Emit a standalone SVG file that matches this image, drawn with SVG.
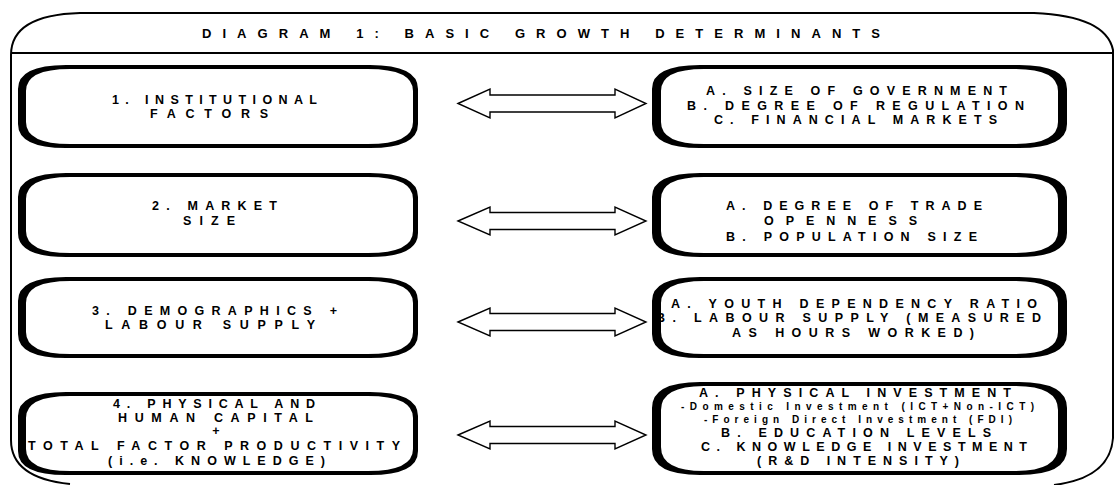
<svg xmlns="http://www.w3.org/2000/svg" width="1114" height="485" viewBox="0 0 1114 485">
<style>
.t{font-family:"Liberation Sans",Arial,sans-serif;font-weight:bold;font-size:12.5px;fill:#000}
.s{font-size:10px}
.ttl{font-size:13px}
.nb{fill:#000;fill-rule:evenodd}
.ar{fill:#fff;stroke:#000;stroke-width:1.4;stroke-linejoin:miter}
.fr{fill:none;stroke:#000;stroke-width:2}
</style>
<rect width="1114" height="485" fill="#fff"/>
<g id="frame">
<path class="fr" d="M70 484 Q11 478 11 440 L11 55 Q11 15 80 13 L1034 13 Q1106 16 1113 50 L1113 438 Q1110 478 1054 485"/>
<line class="fr" x1="11" y1="53" x2="1114" y2="53"/>
<text class="t ttl" x="202" y="38" textLength="678" lengthAdjust="spacing">DIAGRAM 1: BASIC GROWTH DETERMINANTS</text>
</g>
<g id="connectors">
<polygon class="ar" points="458,103.5 490,89 490,95 615,95 615,89 646,103.5 615,118 615,112 490,112 490,118"/>
<polygon class="ar" points="458,221 490,207 490,212.5 615,212.5 615,207 646,221 615,235 615,229.5 490,229.5 490,235"/>
<polygon class="ar" points="458,322 490,308 490,313.5 615,313.5 615,308 646,322 615,336 615,330.5 490,330.5 490,336"/>
<polygon class="ar" points="458,435 490,421 490,426.5 615,426.5 615,421 646,435 615,449 615,443.5 490,443.5 490,449"/>
</g>
<g id="n1">
<path class="nb" d="M66 65 H370 Q418 65 418 89 V124 Q418 148 370 148 H66 Q18 148 18 124 V89 Q18 65 66 65 Z M70 69 H368 Q413 69 413 91 V122 Q413 144 368 144 H70 Q26 144 26 122 V91 Q26 69 70 69 Z"/>
<text class="t" x="112" y="104" textLength="205" lengthAdjust="spacing">1. INSTITUTIONAL</text>
<text class="t" x="150" y="118" textLength="118" lengthAdjust="spacing">FACTORS</text>
</g>
<g id="n1a">
<path class="nb" d="M700 65 H1019 Q1067 65 1067 89 V124 Q1067 148 1019 148 H700 Q652 148 652 124 V89 Q652 65 700 65 Z M704 69 H1015 Q1058 69 1058 91 V122 Q1058 144 1015 144 H704 Q661 144 661 122 V91 Q661 69 704 69 Z"/>
<text class="t" x="706" y="95" textLength="301" lengthAdjust="spacing">A. SIZE OF GOVERNMENT</text>
<text class="t" x="687" y="110" textLength="337" lengthAdjust="spacing">B. DEGREE OF REGULATION</text>
<text class="t" x="714" y="124" textLength="283" lengthAdjust="spacing">C. FINANCIAL MARKETS</text>
</g>
<g id="n2">
<path class="nb" d="M66 173 H370 Q418 173 418 197 V233 Q418 257 370 257 H66 Q18 257 18 233 V197 Q18 173 66 173 Z M70 177 H368 Q413 177 413 199 V231 Q413 253 368 253 H70 Q26 253 26 231 V199 Q26 177 70 177 Z"/>
<text class="t" x="152" y="210" textLength="125" lengthAdjust="spacing">2. MARKET</text>
<text class="t" x="183" y="225" textLength="52" lengthAdjust="spacing">SIZE</text>
</g>
<g id="n2a">
<path class="nb" d="M700 173 H1019 Q1067 173 1067 197 V233 Q1067 257 1019 257 H700 Q652 257 652 233 V197 Q652 173 700 173 Z M704 177 H1015 Q1058 177 1058 199 V231 Q1058 253 1015 253 H704 Q661 253 661 231 V199 Q661 177 704 177 Z"/>
<text class="t" x="726" y="210" textLength="256" lengthAdjust="spacing">A. DEGREE OF TRADE</text>
<text class="t" x="764" y="225" textLength="153" lengthAdjust="spacing">OPENNESS</text>
<text class="t" x="726" y="241" textLength="251" lengthAdjust="spacing">B. POPULATION SIZE</text>
</g>
<g id="n3">
<path class="nb" d="M66 277 H370 Q418 277 418 301 V334 Q418 358 370 358 H66 Q18 358 18 334 V301 Q18 277 66 277 Z M70 281 H368 Q413 281 413 303 V332 Q413 354 368 354 H70 Q26 354 26 332 V303 Q26 281 70 281 Z"/>
<text class="t" x="92" y="315" textLength="245" lengthAdjust="spacing">3. DEMOGRAPHICS +</text>
<text class="t" x="105" y="329" textLength="210" lengthAdjust="spacing">LABOUR SUPPLY</text>
</g>
<g id="n3a">
<path class="nb" d="M700 277 H1019 Q1067 277 1067 301 V334 Q1067 358 1019 358 H700 Q652 358 652 334 V301 Q652 277 700 277 Z M704 281 H1015 Q1058 281 1058 303 V332 Q1058 354 1015 354 H704 Q661 354 661 332 V303 Q661 281 704 281 Z"/>
<text class="t" x="671" y="308" textLength="366" lengthAdjust="spacing">A. YOUTH DEPENDENCY RATIO</text>
<text class="t" x="656" y="322" textLength="385" lengthAdjust="spacing">B. LABOUR SUPPLY (MEASURED</text>
<text class="t" x="732" y="337" textLength="242" lengthAdjust="spacing">AS HOURS WORKED)</text>
</g>
<g id="n4">
<path class="nb" d="M66 392 H370 Q418 392 418 416 V451 Q418 475 370 475 H66 Q18 475 18 451 V416 Q18 392 66 392 Z M70 396 H368 Q413 396 413 418 V449 Q413 471 368 471 H70 Q26 471 26 449 V418 Q26 396 70 396 Z"/>
<text class="t" x="113" y="408" textLength="202" lengthAdjust="spacing">4. PHYSICAL AND</text>
<text class="t" x="118" y="422" textLength="195" lengthAdjust="spacing">HUMAN CAPITAL</text>
<text class="t" x="216" y="435" text-anchor="middle">+</text>
<text class="t" x="28" y="450" textLength="372" lengthAdjust="spacing">TOTAL FACTOR PRODUCTIVITY</text>
<text class="t" x="108" y="465" textLength="217" lengthAdjust="spacing">(i.e. KNOWLEDGE)</text>
</g>
<g id="n4a">
<path class="nb" d="M700 382 H1019 Q1067 382 1067 408 V449 Q1067 475 1019 475 H700 Q652 475 652 449 V408 Q652 382 700 382 Z M704 386 H1015 Q1058 386 1058 410 V447 Q1058 471 1015 471 H704 Q661 471 661 447 V410 Q661 386 704 386 Z"/>
<text class="t" x="699" y="397" textLength="312" lengthAdjust="spacing">A. PHYSICAL INVESTMENT</text>
<text class="t s" x="681" y="410" textLength="353" lengthAdjust="spacing">-Domestic Investment (ICT+Non-ICT)</text>
<text class="t s" x="704" y="423" textLength="308" lengthAdjust="spacing">-Foreign Direct Investment (FDI)</text>
<text class="t" x="721" y="437" textLength="270" lengthAdjust="spacing">B. EDUCATION LEVELS</text>
<text class="t" x="701" y="451" textLength="326" lengthAdjust="spacing">C. KNOWLEDGE INVESTMENT</text>
<text class="t" x="757" y="465" textLength="202" lengthAdjust="spacing">(R&amp;D INTENSITY)</text>
</g>
</svg>
